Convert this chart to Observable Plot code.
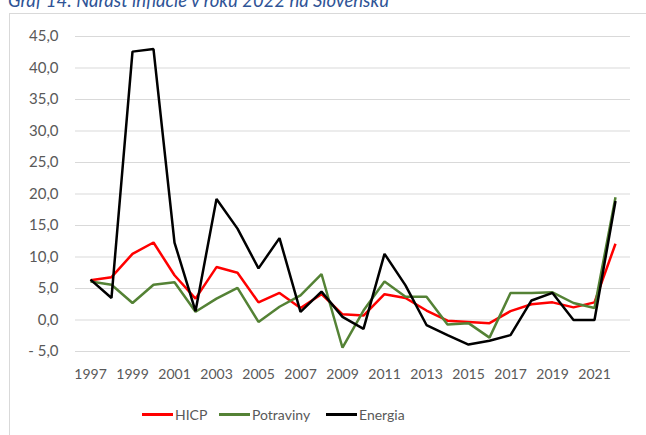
<!DOCTYPE html>
<html>
<head>
<meta charset="utf-8">
<script src="https://cdn.jsdelivr.net/npm/d3@7"></script>
<script src="https://cdn.jsdelivr.net/npm/@observablehq/plot@0.6"></script>
<style>
  html, body { margin: 0; padding: 0; background: #fff; width: 646px; height: 435px; overflow: hidden; }
  #title { position: absolute; left: 8px; top: -11px; font: italic 18.5px Lato, sans-serif; color: #2F5496; white-space: nowrap; }
  #frame { position: absolute; left: 9px; top: 13px; width: 700px; height: 440px; border: 1px solid #d9d9d9; box-sizing: border-box; }
  #chart { position: absolute; left: 0; top: 0; }
  #legend { position: absolute; top: 406px; left: 0; width: 646px; font: 14px Lato, sans-serif; color: #595959; }
  .item { position: absolute; display: flex; align-items: center; }
  .sw { display: inline-block; width: 31px; height: 2.5px; margin-right: 2px; }
</style>
</head>
<body>
<div id="title">Graf 14: Nárast inflácie v roku 2022 na Slovensku</div>
<div id="frame"></div>
<div id="chart"></div>
<div id="legend"></div>
<script>
const years = [1997,1998,1999,2000,2001,2002,2003,2004,2005,2006,2007,2008,2009,2010,2011,2012,2013,2014,2015,2016,2017,2018,2019,2020,2021,2022];
const hicp =      [6.3, 6.8, 10.5, 12.3, 7.1, 3.4, 8.4, 7.5, 2.8, 4.3, 1.9, 4.1, 0.9, 0.7, 4.1, 3.5, 1.5, -0.1, -0.3, -0.5, 1.4, 2.5, 2.8, 2.0, 2.8, 12.1];
const potraviny = [6.1, 5.6, 2.7, 5.6, 6.0, 1.3, 3.4, 5.1, -0.3, 2.1, 3.9, 7.3, -4.4, 1.5, 6.1, 3.7, 3.7, -0.7, -0.5, -2.8, 4.3, 4.3, 4.4, 2.7, 1.9, 19.5];
const energia =   [6.4, 3.5, 42.6, 43.0, 12.3, 1.4, 19.2, 14.5, 8.2, 13.0, 1.3, 4.5, 0.5, -1.4, 10.5, 5.5, -0.8, -2.4, -3.9, -3.3, -2.4, 3.1, 4.3, 0.0, 0.0, 18.9];
const seriesNames = ["HICP", "Potraviny", "Energia"];
const seriesColors = ["#FF0000", "#548235", "#000000"];
const yTicks = [-5, 0, 5, 10, 15, 20, 25, 30, 35, 40, 45];
const xTicks = years.filter(y => y % 2 === 1);

const data = [];
[hicp, potraviny, energia].forEach((arr, i) => {
  arr.forEach((v, j) => data.push({ year: years[j], value: v, series: seriesNames[i] }));
});

const fmt = d => (d < 0 ? "- " + Math.abs(d).toFixed(1) : d.toFixed(1)).replace(".", ",");

const chart = Plot.plot({
  width: 646,
  height: 395,
  marginLeft: 75,
  marginRight: 16,
  marginTop: 36,
  marginBottom: 44,
  style: { fontFamily: "Lato, sans-serif", fontSize: "14px", color: "#595959", background: "transparent" },
  x: { type: "point", domain: years, padding: 0.5, label: null },
  y: { domain: [-5, 45], label: null },
  color: { domain: seriesNames, range: seriesColors },
  marks: [
    Plot.gridY(yTicks, { stroke: "#d9d9d9", strokeOpacity: 1, strokeWidth: 1 }),
    Plot.axisY(yTicks, { tickSize: 0, tickPadding: 17, tickFormat: fmt, fill: "#595959", label: null, fontSize: 15 }),
    Plot.axisX(xTicks, { tickSize: 0, tickPadding: 18, tickFormat: d => String(d), fill: "#595959", label: null }),
    Plot.line(data, { x: "year", y: "value", z: "series", stroke: "series", strokeWidth: 2.5, strokeLinejoin: "miter", strokeLinecap: "butt" })
  ]
});
document.getElementById("chart").appendChild(chart);

const legend = document.getElementById("legend");
const positions = [142, 219, 326];
seriesNames.forEach((name, i) => {
  const it = document.createElement("div");
  it.className = "item";
  it.style.left = positions[i] + "px";
  it.innerHTML = `<span class="sw" style="background:${seriesColors[i]}"></span><span>${name}</span>`;
  legend.appendChild(it);
});
</script>
</body>
</html>
